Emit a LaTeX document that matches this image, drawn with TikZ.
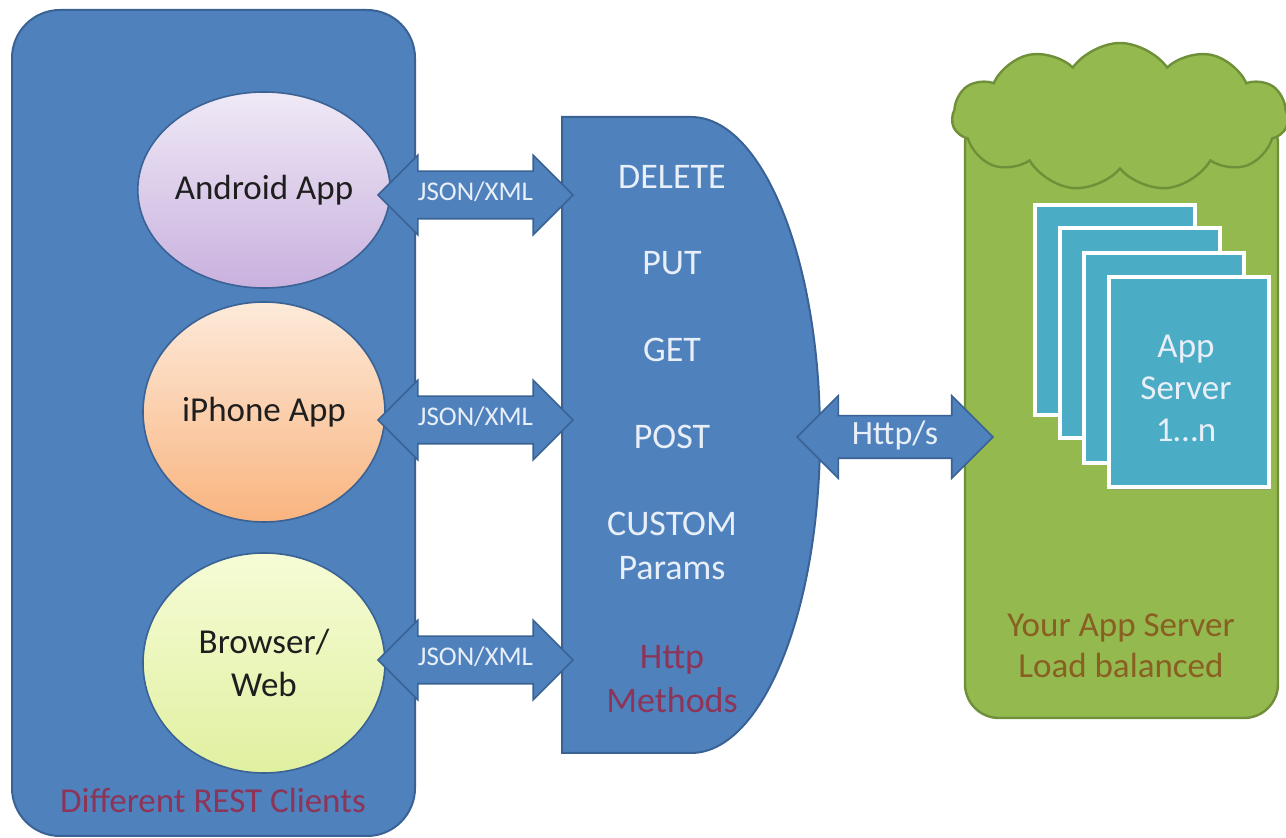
\documentclass[tikz,border=0pt]{standalone}
\usepackage{fontspec}
\setmainfont{Carlito}
\usetikzlibrary{shapes.geometric,shapes.symbols,shapes.arrows,shadows}
\definecolor{rblue}{HTML}{4F81BD}
\definecolor{rblueline}{HTML}{3A6294}
\definecolor{rgreen}{HTML}{93B94F}
\definecolor{rgreenline}{HTML}{6F8F38}
\definecolor{rteal}{HTML}{4BACC6}
\definecolor{rlight}{HTML}{E8EFF8}
\definecolor{rred}{HTML}{8C3558}
\definecolor{rbrown}{HTML}{8A5F22}
\definecolor{rdark}{HTML}{1E1E1E}
\definecolor{andtop}{HTML}{EFE9F6}
\definecolor{andbot}{HTML}{C9B1DE}
\definecolor{iphtop}{HTML}{FDEADA}
\definecolor{iphbot}{HTML}{F9B47F}
\definecolor{brwtop}{HTML}{F6FCD6}
\definecolor{brwbot}{HTML}{E0F0A0}
\begin{document}
\begin{tikzpicture}[x=0.5pt,y=-0.5pt,
  panel/.style={draw=rblueline, fill=rblue, line width=1pt},
  client/.style={ellipse, draw=rblueline, line width=0.8pt, minimum width=121pt, minimum height=100pt, inner sep=0pt,
    font=\fontsize{17.5}{21.5}\selectfont, text=rdark, align=center},
  jsonarrow/.style={double arrow, double arrow head extend=8pt, double arrow tip angle=90,
    fill=rblue, draw=rblueline, line width=0.8pt, minimum height=97.5pt, minimum width=38pt,
    inner xsep=0pt, inner ysep=6pt, text height=8.5pt, text depth=2.5pt,
    font=\fontsize{13.5}{16}\selectfont, text=rlight},
  httparrow/.style={double arrow, double arrow head extend=10pt, double arrow tip angle=90,
    fill=rblue, draw=rblueline, line width=0.8pt, minimum height=98pt, minimum width=40pt,
    inner xsep=0pt, inner ysep=3.25pt, text height=11pt, text depth=3pt,
    font=\fontsize{17}{20}\selectfont, text=rlight},
  mtext/.style={font=\fontsize{18}{22}\selectfont, text=rlight, align=center, inner sep=0pt},
  labeltext/.style={font=\fontsize{17.5}{20.5}\selectfont, align=center, inner sep=0pt},
  srvbox/.style={draw=white, line width=2pt, fill=rteal, minimum width=80pt, minimum height=105pt,
    drop shadow={opacity=0.35, shadow xshift=1.2pt, shadow yshift=-1.2pt}},
]
\useasboundingbox (0,0) rectangle (1286,838);

% left panel: REST clients
\node[panel, rounded corners=24pt, minimum width=201.5pt, minimum height=413pt] (clients) at (213.5,423) {};
\node[labeltext, text=rred] (clientslbl) at (213,800) {Different REST Clients};

\node[client, top color=andtop, bottom color=andbot, minimum height=98pt] (android) at (264,190) {Android App};
\node[client, top color=iphtop, bottom color=iphbot, minimum height=110pt] (iphone) at (264,412) {iPhone App};
\node[client, top color=brwtop, bottom color=brwbot, minimum height=110pt] (browser) at (264,663) {Browser/\\Web};

% middle: HTTP methods
\path[panel] (562,117) -- (691,117) arc[start angle=-90, end angle=90, x radius=129, y radius=318]
  -- (562,753) -- cycle;
\coordinate (methods) at (672,435);
\node[mtext] (delete) at (672,177) {DELETE};
\node[mtext] (put) at (672,263) {PUT};
\node[mtext] (get) at (672,350) {GET};
\node[mtext] (post) at (672,437) {POST};
\node[mtext] (custom) at (672,546) {CUSTOM\\Params};
\node[mtext, text=rred] (httpm) at (672,679) {Http\\Methods};

% right: app server
\node[draw=rgreenline, fill=rgreen, line width=1.2pt, rounded corners=17pt,
  minimum width=156.5pt, minimum height=304pt] (server) at (1121.5,414) {};
\node[cloud, cloud puffs=11, cloud puff arc=110, aspect=2.3, fill=rgreen, draw=rgreenline,
  line width=1.2pt, minimum width=168pt, minimum height=74pt, inner sep=0pt] (cloud) at (1120,117) {};
\node[srvbox] (s1) at (1115,310) {};
\node[srvbox] (s2) at (1140,333) {};
\node[srvbox] (s3) at (1163.5,358) {};
\node[srvbox] (s4) at (1188.5,382.5) {};
\node[font=\fontsize{17.5}{21}\selectfont, text=rlight, align=center, inner sep=0pt] (s4text) at (1186,388) {App\\Server\\1\ldots n};
\node[labeltext, text=rbrown] (serverlbl) at (1121,646) {Your App Server\\Load balanced};

% connectors
\node[jsonarrow] (a1) at (475.5,195) {JSON/XML};
\node[jsonarrow] (a2) at (475.5,420) {JSON/XML};
\node[jsonarrow] (a3) at (475.5,660) {JSON/XML};
\node[httparrow] (h) at (895,437) {Http/s};
\end{tikzpicture}
\end{document}
